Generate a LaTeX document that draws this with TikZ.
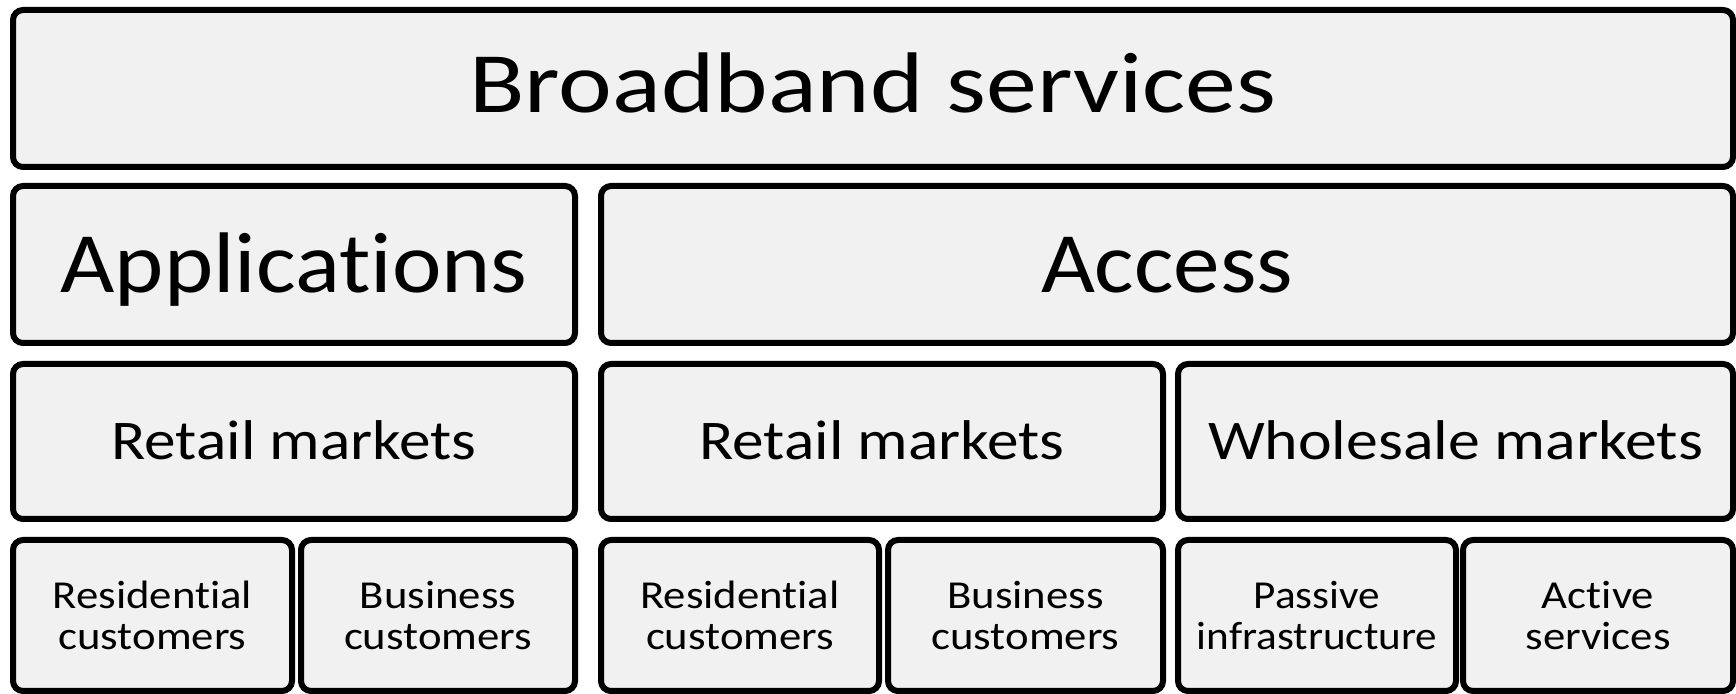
\documentclass[tikz,border=0pt]{standalone}
\usepackage{fontspec}
\setmainfont{Carlito}[Ligatures=NoCommon]
\newfontfamily\smallfam{Carlito}[FakeStretch=1.13, Ligatures=NoCommon]
\newfontfamily\narrowfam{Carlito}[FakeStretch=1.09, Ligatures=NoCommon]
\definecolor{boxgray}{HTML}{F1F1F1}
\newcommand{\fitw}[2]{\resizebox{#1}{\height}{#2}}
\begin{document}
\begin{tikzpicture}[x=0.5pt,y=-0.5pt,
  box/.style={draw=black, line width=3pt, fill=boxgray, rounded corners=5pt, inner sep=0pt},
  big/.style={font=\fontsize{43}{50}\selectfont, text height=27.7pt, text depth=0pt},
  mid/.style={font=\fontsize{28}{32}\selectfont, text height=18pt, text depth=0pt},
  small/.style={font=\smallfam\fontsize{19.8}{20.5}\selectfont, align=center},
  narrowsmall/.style={font=\narrowfam\fontsize{19.8}{20.5}\selectfont, align=center},
  row1/.style={minimum height=78.5pt},
  row2/.style={minimum height=78.5pt},
  row3/.style={minimum height=77.5pt},
  row4/.style={minimum height=75.5pt}]
\useasboundingbox[fill=white] (0,0) rectangle (1736,694);
% row 1
\node[box, big, row1, minimum width=860pt] (bb) at (873,88.5) {\raisebox{1.75pt}{\fitw{403.5pt}{Broadband services}}};
% row 2
\node[box, big, row2, minimum width=281pt] (app) at (294,264.5) {\fitw{233.5pt}{Applications}};
\node[box, big, row2, minimum width=566pt] (acc) at (1167,264.5) {\fitw{126pt}{Access}};
% row 3
\node[box, mid, row3, minimum width=281pt] (appret) at (294,441.5) {\fitw{182.5pt}{Retail markets}};
\node[box, mid, row3, minimum width=281pt] (accret) at (882,441.5) {\fitw{182.5pt}{Retail markets}};
\node[box, mid, row3, minimum width=277.5pt] (whole) at (1455.5,441.5) {\fitw{247.5pt}{Wholesale markets}};
% row 4
\node[box, small, row4, minimum width=139.5pt] (res1) at (152.5,615.5) {Residential\\customers};
\node[box, small, row4, minimum width=137pt] (bus1) at (438,615.5) {Business\\customers};
\node[box, small, row4, minimum width=139pt] (res2) at (740,615.5) {Residential\\customers};
\node[box, small, row4, minimum width=137.5pt] (bus2) at (1025.5,615.5) {Business\\customers};
\node[box, narrowsmall, row4, minimum width=139pt] (pas) at (1317,615.5) {Passive\\infrastructure};
\node[box, small, row4, minimum width=135pt] (act) at (1598,615.5) {Active\\services};
\end{tikzpicture}
\end{document}
